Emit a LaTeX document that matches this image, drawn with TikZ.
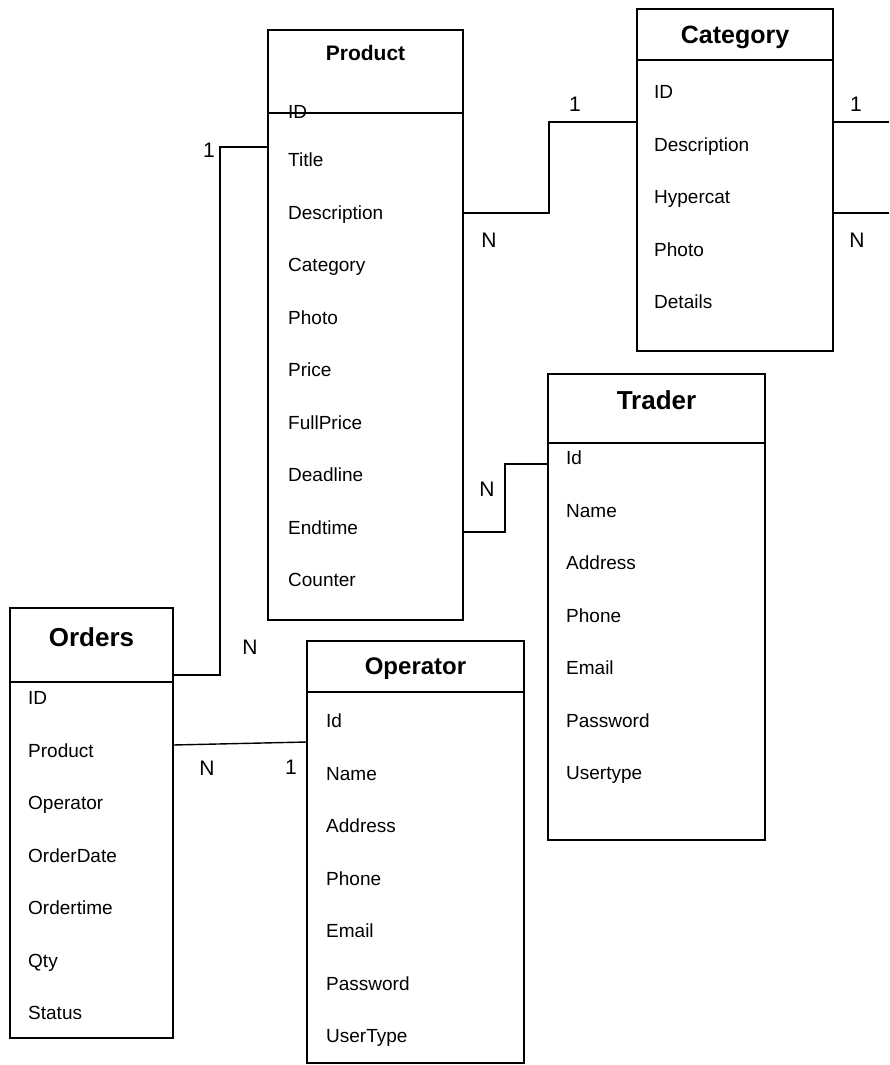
\documentclass[tikz,border=0pt]{standalone}
\usepackage{fontspec}
\setmainfont{Liberation Sans}
\usetikzlibrary{positioning}
\tikzset{
  head/.style={draw, line width=1.4pt, outer sep=0pt, anchor=north west,
    text depth=0pt, font=\bfseries},
  body/.style={draw, line width=1.4pt, outer sep=0pt},
  field/.style={anchor=west, inner sep=0pt, text height=13.5pt, text depth=0pt,
    font=\fontsize{19}{23}\selectfont},
  card/.style={inner sep=0pt, font=\fontsize{21}{25}\selectfont},
  rel/.style={line width=1.4pt}
}

\begin{document}
\begin{tikzpicture}[x=1pt, y=-1pt, node distance=52.5pt]
  \useasboundingbox (0,0) rectangle (889,1065);

  % Product
  \node[head, minimum width=195pt, minimum height=83pt, text depth=37pt,
        font=\bfseries\fontsize{21}{25}\selectfont] (prodhead) at (268,30) {Product};
  \node[body, below=0pt of prodhead, minimum width=195pt, minimum height=507pt] (prodbody) {};
  \node[field] (pid) at (288,112) {ID};
  \node[field] (ptitle) at ([xshift=20pt, yshift=-47pt]prodbody.north west) {Title};
  \node[field, below=of ptitle.west, anchor=west] (pdesc) {Description};
  \node[field, below=of pdesc.west, anchor=west] (pcat) {Category};
  \node[field, below=of pcat.west, anchor=west] (pphoto) {Photo};
  \node[field, below=of pphoto.west, anchor=west] (pprice) {Price};
  \node[field, below=of pprice.west, anchor=west] (pfull) {FullPrice};
  \node[field, below=of pfull.west, anchor=west] (pdead) {Deadline};
  \node[field, below=of pdead.west, anchor=west] (pend) {Endtime};
  \node[field, below=of pend.west, anchor=west] (pcount) {Counter};

  % Category
  \node[head, minimum width=196pt, minimum height=51pt,
        font=\bfseries\fontsize{25}{29}\selectfont] (cathead) at (637,9) {Category};
  \node[body, below=0pt of cathead, minimum width=196pt, minimum height=291pt] (catbody) {};
  \node[field] (cid) at ([xshift=17pt, yshift=-32pt]catbody.north west) {ID};
  \node[field, below=of cid.west, anchor=west] (cdesc) {Description};
  \node[field, below=of cdesc.west, anchor=west] (chyper) {Hypercat};
  \node[field, below=of chyper.west, anchor=west] (cphoto) {Photo};
  \node[field, below=of cphoto.west, anchor=west] (cdet) {Details};

  % Trader
  \node[head, minimum width=217pt, minimum height=69pt, text depth=16pt,
        font=\bfseries\fontsize{26}{30}\selectfont] (trahead) at (548,374) {Trader};
  \node[body, below=0pt of trahead, minimum width=217pt, minimum height=397pt] (trabody) {};
  \node[field] (tid) at ([xshift=18pt, yshift=-15pt]trabody.north west) {Id};
  \node[field, below=of tid.west, anchor=west] (tname) {Name};
  \node[field, below=of tname.west, anchor=west] (taddr) {Address};
  \node[field, below=of taddr.west, anchor=west] (tphone) {Phone};
  \node[field, below=of tphone.west, anchor=west] (tmail) {Email};
  \node[field, below=of tmail.west, anchor=west] (tpass) {Password};
  \node[field, below=of tpass.west, anchor=west] (ttype) {Usertype};

  % Operator
  \node[head, minimum width=217pt, minimum height=51pt,
        font=\bfseries\fontsize{24}{28}\selectfont] (ophead) at (307,641) {Operator};
  \node[body, below=0pt of ophead, minimum width=217pt, minimum height=371pt] (opbody) {};
  \node[field] (oid) at ([xshift=19pt, yshift=-29pt]opbody.north west) {Id};
  \node[field, below=of oid.west, anchor=west] (oname) {Name};
  \node[field, below=of oname.west, anchor=west] (oaddr) {Address};
  \node[field, below=of oaddr.west, anchor=west] (ophone) {Phone};
  \node[field, below=of ophone.west, anchor=west] (omail) {Email};
  \node[field, below=of omail.west, anchor=west] (opass) {Password};
  \node[field, below=of opass.west, anchor=west] (otype) {UserType};

  % Orders
  \node[head, minimum width=163pt, minimum height=74pt, text depth=16pt,
        font=\bfseries\fontsize{26}{30}\selectfont] (ordhead) at (10,608) {Orders};
  \node[body, below=0pt of ordhead, minimum width=163pt, minimum height=356pt] (ordbody) {};
  \node[field] (rid) at ([xshift=18pt, yshift=-16pt]ordbody.north west) {ID};
  \node[field, below=of rid.west, anchor=west] (rprod) {Product};
  \node[field, below=of rprod.west, anchor=west] (rop) {Operator};
  \node[field, below=of rop.west, anchor=west] (rdate) {OrderDate};
  \node[field, below=of rdate.west, anchor=west] (rtime) {Ordertime};
  \node[field, below=of rtime.west, anchor=west] (rqty) {Qty};
  \node[field, below=of rqty.west, anchor=west] (rstat) {Status};

  % relationships
  \coordinate (catone) at (889,122);
  \coordinate (catmany) at (889,213);
  \draw[rel] ([yshift=7pt]ordhead.south east) -- ++(47,0) |- ([yshift=-34pt]prodbody.north west);
  \draw[rel] ([yshift=-100pt]prodbody.north east) -- ++(86,0) |- ([yshift=-62pt]catbody.north west);
  \draw[rel] ([yshift=-62pt]catbody.north east) -- (catone);
  \draw[rel] ([yshift=-153pt]catbody.north east) -- (catmany);
  \draw[rel] ([yshift=-419pt]prodbody.north east) -- ++(42,0) |- ([yshift=-21pt]trabody.north west);
  \draw[rel] ([yshift=-63pt]ordbody.north east) -- ([yshift=-50pt]opbody.north west);

  % cardinalities
  \node[card] (c1) at (209,150) {1};
  \node[card] (c2) at (250,647) {N};
  \node[card] (c3) at (489,240) {N};
  \node[card] (c4) at (575,104) {1};
  \node[card] (c5) at (856,104) {1};
  \node[card] (c6) at (857,240) {N};
  \node[card] (c7) at (487,489) {N};
  \node[card] (c8) at (207,768) {N};
  \node[card] (c9) at (291,767) {1};
\end{tikzpicture}
\end{document}
